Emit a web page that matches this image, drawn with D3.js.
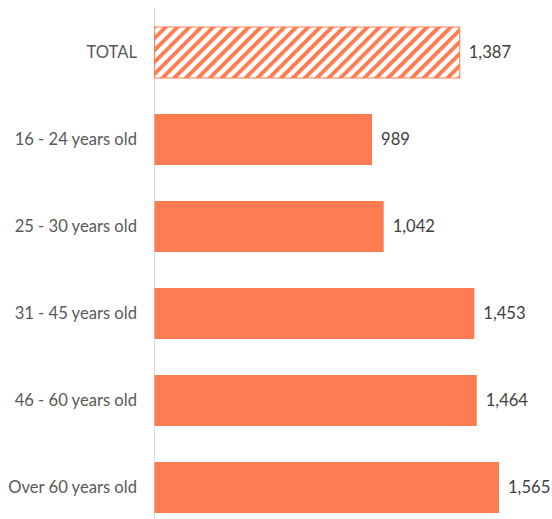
<!DOCTYPE html>
<html>
<head>
<meta charset="utf-8">
<script src="https://cdn.jsdelivr.net/npm/d3@7"></script>
<style>
  body { margin: 0; background: #fff; }
  svg text { font-family: Lato, "Open Sans", sans-serif; }
</style>
</head>
<body>
<svg id="chart"></svg>
<script>
// chart data
let categories = ["TOTAL", "16 - 24 years old", "25 - 30 years old", "31 - 45 years old", "46 - 60 years old", "Over 60 years old"]
let values = [1387, 989, 1042, 1453, 1464, 1565]

let width = 552
let height = 519
let coral = "#ff7b51"

let chart = d3.select("#chart")
  .attr("width", width)
  .attr("height", height)

// hatch for the total bar
let defs = chart.append("defs")
let pattern = defs.append("pattern")
  .attr("id", "hatch")
  .attr("patternUnits", "userSpaceOnUse")
  .attr("width", 8.4)
  .attr("height", 8.4)
  .attr("patternTransform", "rotate(45)")
pattern.append("rect")
  .attr("width", 8.4).attr("height", 8.4).attr("fill", "#fff")
pattern.append("rect")
  .attr("x", 0).attr("y", 0)
  .attr("width", 3.9).attr("height", 8.4)
  .attr("fill", coral)

let x = d3.scaleLinear()
  .domain([0, 1565])
  .range([154, 499])

let y = d3.scaleBand()
  .domain(categories)
  .range([9, 531])
  .paddingInner(0.414)
  .paddingOuter(0.207)

// axis line
chart.append("line")
  .attr("x1", 154.5).attr("x2", 154.5)
  .attr("y1", 8).attr("y2", height)
  .attr("stroke", "#d9d9d9")
  .attr("stroke-width", 1)

let rows = categories.map(function(c, i) {
  return { cat: c, val: values[i] }
})

chart.selectAll("rect.bar")
  .data(rows)
  .enter()
  .append("rect")
  .attr("class", "bar")
  .attr("x", x(0) + 0.5)
  .attr("y", function(d) { return y(d.cat) })
  .attr("width", function(d) { return x(d.val) - x(0) - 0.5 })
  .attr("height", y.bandwidth())
  .attr("fill", function(d, i) { return i === 0 ? "url(#hatch)" : coral })
  .attr("stroke", function(d, i) { return i === 0 ? coral : "none" })
  .attr("stroke-width", 1)

// category labels
chart.selectAll("text.cat")
  .data(rows)
  .enter()
  .append("text")
  .attr("class", "cat")
  .attr("x", 137)
  .attr("y", function(d) { return y(d.cat) + y.bandwidth() / 2 })
  .attr("dy", "0.35em")
  .attr("text-anchor", "end")
  .attr("font-size", 16.6)
  .attr("fill", "#595959")
  .text(function(d) { return d.cat })

// value labels
chart.selectAll("text.val")
  .data(rows)
  .enter()
  .append("text")
  .attr("class", "val")
  .attr("x", function(d) { return x(d.val) + 9 })
  .attr("y", function(d) { return y(d.cat) + y.bandwidth() / 2 })
  .attr("dy", "0.35em")
  .attr("font-size", 16.6)
  .attr("fill", "#404040")
  .text(function(d) { return d3.format(",")(d.val) })
</script>
</body>
</html>
